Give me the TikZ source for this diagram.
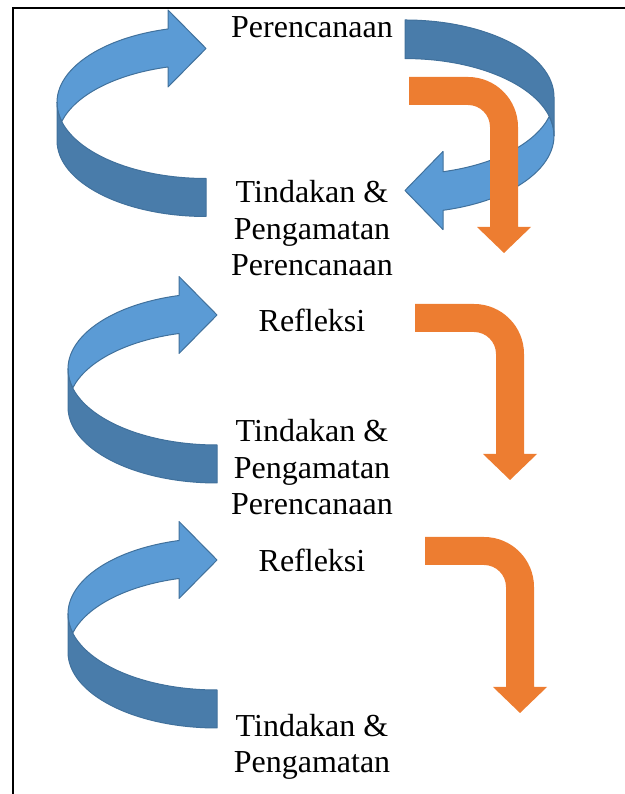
\documentclass[tikz,border=0pt]{standalone}
\usepackage{fontspec}
\setmainfont{Liberation Serif}
\definecolor{lightblue}{HTML}{5B9BD5}
\definecolor{darkblue}{HTML}{497CAA}
\definecolor{blueline}{HTML}{41719C}
\definecolor{orangefill}{HTML}{ED7D31}
\newcommand{\bluecurve}{%
  \filldraw[lightside] (-38,187.5)
    arc[start angle=104.78, end angle=194.48, x radius=149, y radius=76]
    arc[start angle=165.52, end angle=104.78, x radius=149, y radius=76]
    -- (-38,129.5) -- (0,168) -- (-38,206.5) -- cycle;
  \filldraw[darkside] (-149,114)
    arc[start angle=180, end angle=270, x radius=149, y radius=76]
    -- (0,0)
    arc[start angle=270, end angle=180, x radius=149, y radius=76]
    -- cycle;}
\newcommand{\orangebend}{%
  \fill[orangefill] (0,0) -- (59,0) arc[start angle=90, end angle=0, radius=50]
    -- (109,-150) -- (122,-150) -- (95,-176) -- (68,-150) -- (81,-150)
    -- (81,-50) arc[start angle=0, end angle=90, radius=22]
    -- (0,-28) -- cycle;}
\begin{document}
\begin{tikzpicture}[x=1pt,y=1pt,
  lightside/.style={fill=lightblue,draw=blueline,line width=1pt,line join=round},
  darkside/.style={fill=darkblue,draw=blueline,line width=1pt,line join=round},
  label/.style={anchor=base,inner sep=0pt,font=\fontsize{32}{36}\selectfont}]
\useasboundingbox (0,0) rectangle (624,794);
% frame
\draw[line width=2pt,line join=miter] (12.5,-5) -- (12.5,785.5) -- (630,785.5);
% blue curved arrows
\begin{scope}[shift={(206,577.5)}] \bluecurve \end{scope}
\begin{scope}[shift={(405,774)},rotate=180,yscale=1.015] \bluecurve \end{scope}
\begin{scope}[shift={(217,311)}] \bluecurve \end{scope}
\begin{scope}[shift={(217,66)}] \bluecurve \end{scope}
% orange bent arrows
\begin{scope}[shift={(409,717)}] \orangebend \end{scope}
\begin{scope}[shift={(415,490)}] \orangebend \end{scope}
\begin{scope}[shift={(425,257)}] \orangebend \end{scope}
% labels
\node[label] (p1) at (312,756) {Perencanaan};
\node[label] (t1a) at (312,591) {Tindakan \&};
\node[label] (t1b) at (312,554.5) {Pengamatan};
\node[label] (p2) at (312,518) {Perencanaan};
\node[label] (r2) at (312,462) {Refleksi};
\node[label] (t2a) at (312,352) {Tindakan \&};
\node[label] (t2b) at (312,315.5) {Pengamatan};
\node[label] (p3) at (312,279) {Perencanaan};
\node[label] (r3) at (312,222) {Refleksi};
\node[label] (t3a) at (312,57) {Tindakan \&};
\node[label] (t3b) at (312,21) {Pengamatan};
\end{tikzpicture}
\end{document}
